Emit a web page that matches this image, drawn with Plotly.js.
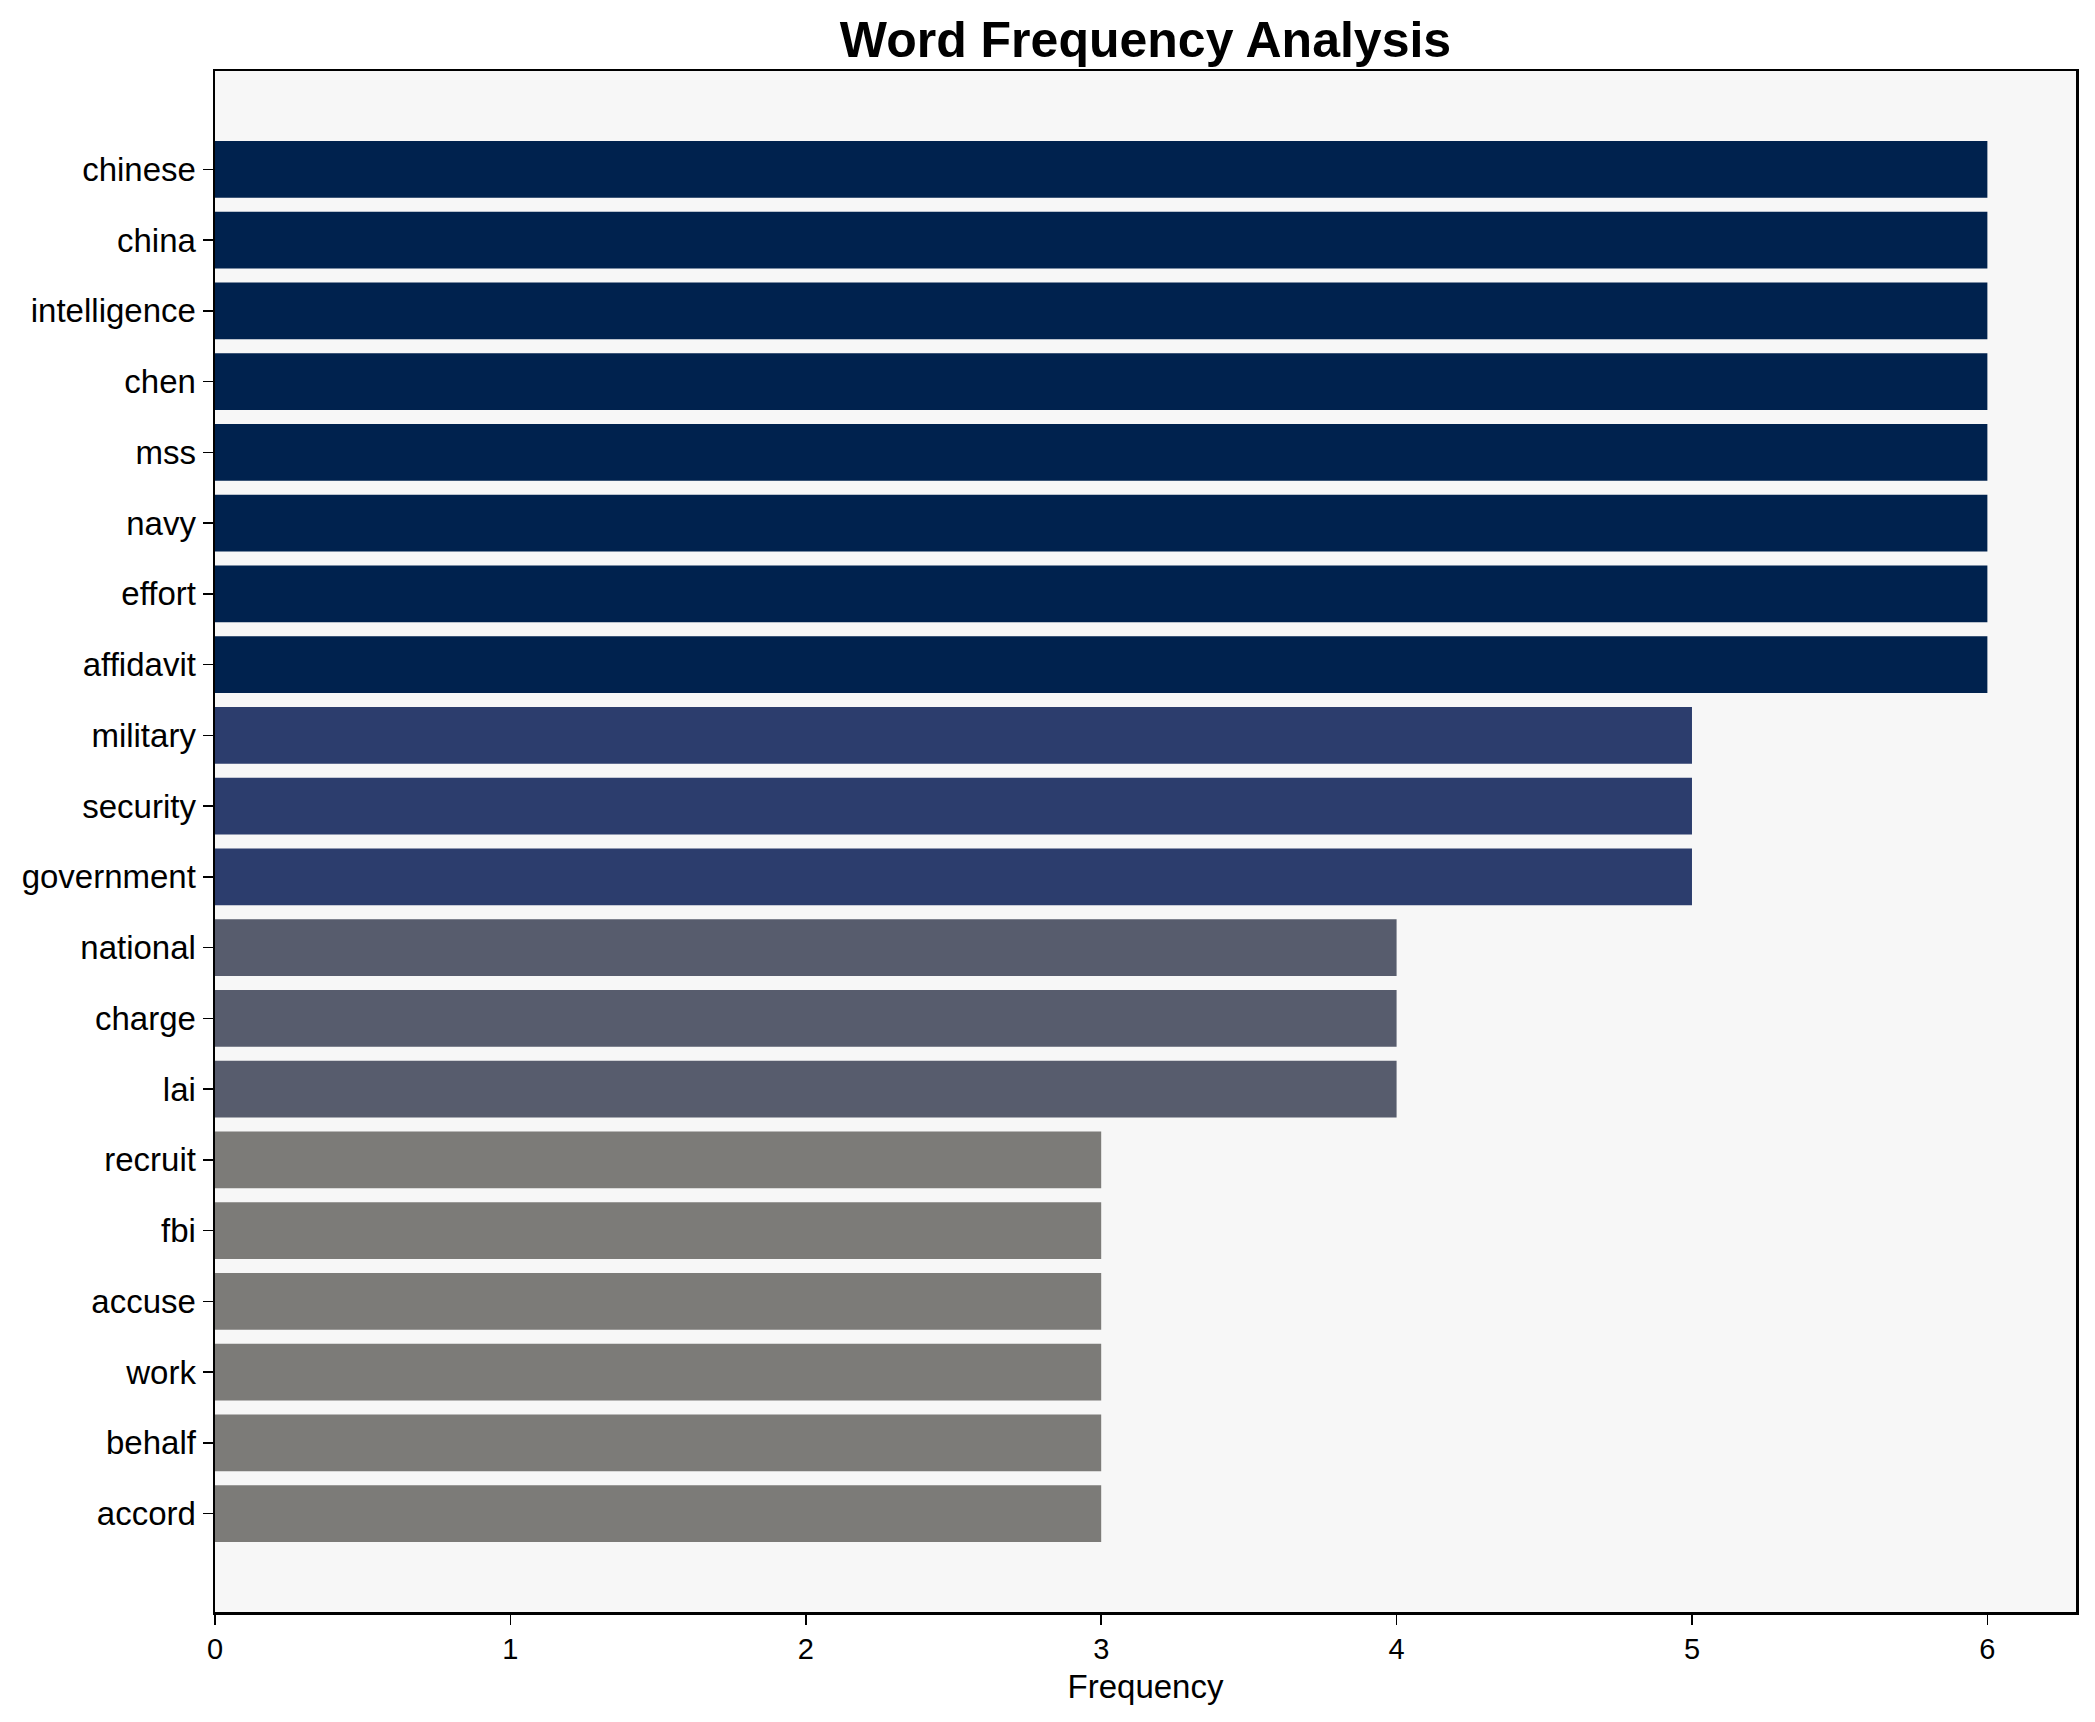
<!DOCTYPE html>
<html>
<head>
<meta charset="utf-8">
<script src="https://cdn.plot.ly/plotly-3.0.1.min.js"></script>
<style>html,body{margin:0;padding:0;background:#fff;}#chart{width:2095px;height:1722px;}</style>
</head>
<body>
<div id="chart"></div>
<script>
const words = ["chinese","china","intelligence","chen","mss","navy","effort","affidavit","military","security","government","national","charge","lai","recruit","fbi","accuse","work","behalf","accord"];
const frequencies = [6,6,6,6,6,6,6,6,5,5,5,4,4,4,3,3,3,3,3,3];
const xTicks = [0,1,2,3,4,5,6];

const palette = {6:"#00224e", 5:"#2c3d6d", 4:"#575c6d", 3:"#7c7b78"};
const colors = frequencies.map(v => palette[v]);

const font = "Liberation Sans, Arial, sans-serif";
const n = words.length;

Plotly.newPlot("chart", [{
  type: "bar",
  orientation: "h",
  x: frequencies,
  y: words,
  width: 0.8,
  marker: {color: colors, line: {width: 0}},
  hoverinfo: "x+y"
}], {
  width: 2095, height: 1722,
  margin: {l: 215, r: 19, t: 71, b: 110, pad: 0},
  paper_bgcolor: "#ffffff",
  plot_bgcolor: "#f7f7f7",
  showlegend: false,
  title: {text: "<b>Word Frequency Analysis</b>", font: {family: font, size: 50, color: "#000"}, xref: "paper", x: 0.5, xanchor: "center", yref: "container", y: 0.977, yanchor: "middle"},
  xaxis: {
    range: [0, 6.3],
    tickvals: xTicks,
    ticktext: xTicks.map(String),
    ticks: "outside", ticklen: 10, tickwidth: 1.5, tickcolor: "#000",
    showgrid: false, zeroline: false,
    showline: true, linecolor: "#000", linewidth: 2.5, mirror: true,
    tickfont: {family: font, size: 29, color: "#000"},
    title: {text: "Frequency", font: {family: font, size: 33, color: "#000"}, standoff: 11}
  },
  yaxis: {
    type: "category",
    categoryorder: "array", categoryarray: words,
    range: [n - 1 + 1.39, -1.39],
    ticks: "outside", ticklen: 10, tickwidth: 1.5, tickcolor: "#000",
    showgrid: false, zeroline: false,
    showline: true, linecolor: "#000", linewidth: 2.5, mirror: true,
    tickfont: {family: font, size: 33, color: "#000"}
  },
  bargap: 0.2
}, {displayModeBar: false, staticPlot: true});
</script>
</body>
</html>
